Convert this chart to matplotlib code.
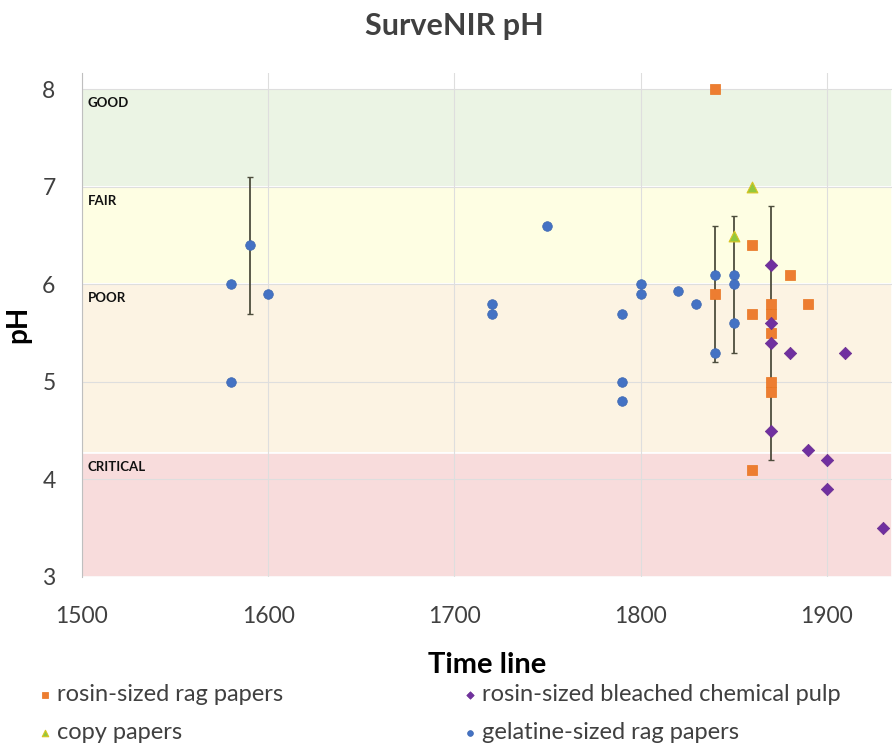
import matplotlib.pyplot as plt
import numpy as np

plt.rcParams['font.family'] = ['Lato', 'DejaVu Sans']

# data
rosin_rag_year = [1840, 1840, 1860, 1860, 1860, 1870, 1870, 1870, 1870, 1870, 1880, 1890]
rosin_rag_ph = [8.0, 5.9, 6.4, 5.7, 4.1, 5.8, 5.7, 5.5, 5.0, 4.9, 6.1, 5.8]

copy_year = [1850, 1860]
copy_ph = [6.5, 7.0]

bleached_year = [1870, 1870, 1870, 1870, 1880, 1890, 1900, 1900, 1910, 1930]
bleached_ph = [6.2, 5.6, 5.4, 4.5, 5.3, 4.3, 4.2, 3.9, 5.3, 3.5]

gelatine_year = [1580, 1580, 1590, 1600, 1720, 1720, 1750, 1790, 1790, 1790,
                 1800, 1800, 1820, 1830, 1840, 1840, 1850, 1850, 1850]
gelatine_ph = [6.0, 5.0, 6.4, 5.9, 5.8, 5.7, 6.6, 5.7, 5.0, 4.8,
               6.0, 5.9, 5.93, 5.8, 6.1, 5.3, 6.1, 6.0, 5.6]

err_year = [1590, 1840, 1850, 1870]
err_mid = [6.4, 5.9, 6.0, 5.5]
err_half = [0.7, 0.7, 0.7, 1.3]

bands = [("GOOD", 7.0, 8.0, "#ebf4e4"),
         ("FAIR", 6.0, 7.0, "#fefee3"),
         ("POOR", 4.27, 6.0, "#fcf3e3"),
         ("CRITICAL", 3.0, 4.27, "#f8dcdc")]

fig = plt.figure(figsize=(8.95, 7.47), dpi=100)
ax = fig.add_axes([0.0916, 0.2276, 0.905, 0.675])

for name, lo, hi, col in bands:
    ax.axhspan(lo, hi, facecolor=col, edgecolor="white", lw=1.2, zorder=0)
    ax.text(1503, hi - 0.14, name, fontsize=9.5, fontweight="bold",
            color="#111111", va="center", ha="left", zorder=1)

ax.set_xlim(1500, 1935)
ax.set_ylim(3, 8.17)
ax.set_xticks(np.arange(1500, 1901, 100))
ax.set_yticks(np.arange(3, 9, 1))
ax.grid(True, color="#dedede", lw=0.8, zorder=0.5)
ax.set_axisbelow(True)

ax.errorbar(err_year, err_mid, yerr=err_half, fmt="none", ecolor="#4d4d3d",
            elinewidth=1.3, capsize=2.5, capthick=1, zorder=2)

ax.scatter(rosin_rag_year, rosin_rag_ph, marker="s", s=48, color="#ed7d31",
           edgecolors="#e8741f", linewidths=0.5, zorder=3, label="rosin-sized rag papers")
ax.scatter(copy_year, copy_ph, marker="^", s=60, color="#92c83e",
           edgecolors="#d8c421", linewidths=0.8, zorder=3, label="copy papers")
ax.scatter(bleached_year, bleached_ph, marker="D", s=40, color="#7030a0",
           edgecolors="#6a2d8f", linewidths=0.5, zorder=3,
           label="rosin-sized bleached chemical pulp")
ax.scatter(gelatine_year, gelatine_ph, marker="o", s=48, color="#4472c4",
           edgecolors="#3f68b0", linewidths=0.5, zorder=3, label="gelatine-sized rag papers")

for s in ["top", "right", "bottom"]:
    ax.spines[s].set_visible(False)
ax.spines["left"].set_color("#bfbfbf")
ax.tick_params(length=0, labelsize=16.5, labelcolor="#404040")
ax.tick_params(axis="y", pad=19)
ax.tick_params(axis="x", pad=21)

ax.set_ylabel("pH", fontsize=20, fontweight="bold", labelpad=8)
ax.set_xlabel("Time line", fontsize=21, fontweight="bold", labelpad=18)
fig.text(0.508, 0.965, "SurveNIR pH", fontsize=22, fontweight="bold",
         color="#404040", ha="center", va="center")

handles, labels = ax.get_legend_handles_labels()
leg = fig.legend(handles, labels,
                 loc="upper left", bbox_to_anchor=(0.017, 0.113), ncol=2,
                 frameon=False, fontsize=17, handletextpad=0.15,
                 columnspacing=7.6, markerscale=0.6, handlelength=0.7,
                 labelspacing=0.72)
for t in leg.get_texts():
    t.set_color("#404040")

fig.savefig("out.png", dpi=100)
